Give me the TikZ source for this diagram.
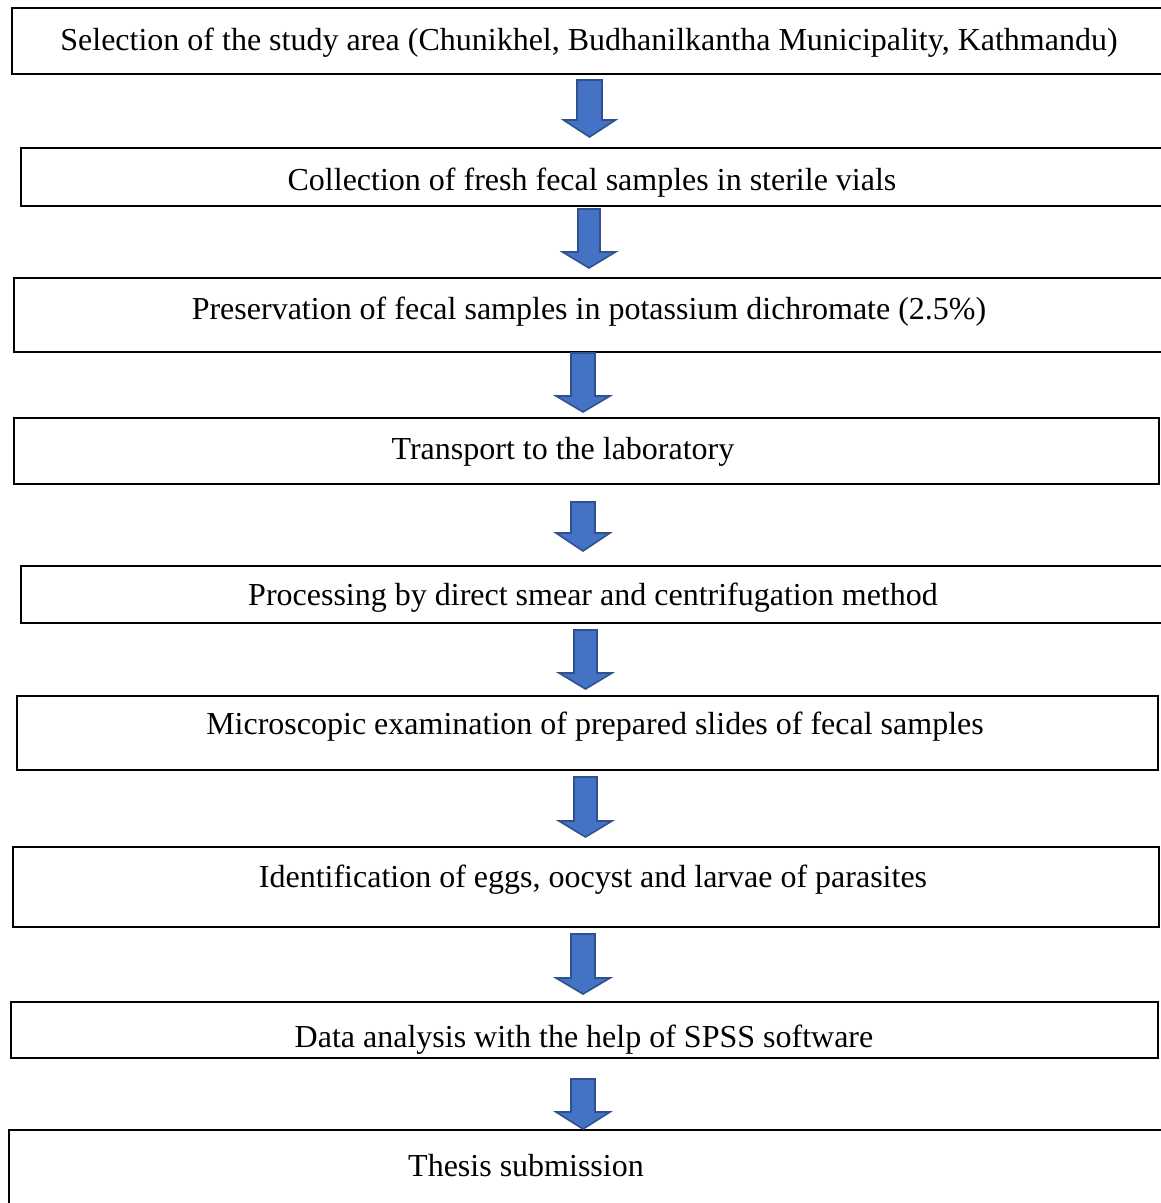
\documentclass[tikz,border=0pt]{standalone}
\usepackage{fontspec}
\setmainfont{Liberation Serif}
\usetikzlibrary{calc}

\definecolor{arrowblue}{HTML}{4472C4}
\definecolor{arrowline}{HTML}{2F528F}

\begin{document}
\begin{tikzpicture}[
        x=1pt, y=-1pt,
        box/.style={draw, inner sep=0pt, outer sep=0pt, anchor=north west},
        heavy/.style={line width=2pt},
        light/.style={line width=1.2pt},
        txt/.style={anchor=base, inner sep=0pt, font=\fontsize{32}{38}\selectfont},
        blockarr/.style={draw=arrowline, fill=arrowblue, line width=1.6pt, line join=miter}
      ]
      \useasboundingbox (0,0) rectangle (1161,1203);
      \fill[white] (0,0) rectangle (1161,1203);
      \clip (0,0) rectangle (1161,1203);

      % Boxes
      \node[box, heavy, minimum width=1158, minimum height=66] (b1) at (12,8) {};
      \node[box, heavy, minimum width=1149, minimum height=58] (b2) at (21,148) {};
      \node[box, heavy, minimum width=1156, minimum height=74] (b3) at (14,278) {};
      \node[box, heavy, minimum width=1145, minimum height=66] (b4) at (14,418) {};
      \node[box, light, minimum width=1149, minimum height=57] (b5) at (21,566) {};
      \node[box, light, minimum width=1141, minimum height=74] (b6) at (17,696) {};
      \node[box, light, minimum width=1146, minimum height=80] (b7) at (13,847) {};
      \node[box, light, minimum width=1147, minimum height=56] (b8) at (11,1002) {};
      \node[box, light, minimum width=1161, minimum height=90] (b9) at (9,1130) {};

      % Texts
      \node[txt] (t1) at (589,50)
      {Selection of the study area (Chunikhel, Budhanilkantha Municipality, Kathmandu)};
      \node[txt] (t2) at (592,190) {Collection of fresh fecal samples in sterile vials};
      \node[txt] (t3) at (589,319)
      {Preservation of fecal samples in potassium dichromate (2.5\%)};
      \node[txt] (t4) at (563,459) {Transport to the laboratory};
      \node[txt] (t5) at (593,605) {Processing by direct smear and centrifugation method};
      \node[txt] (t6) at (595,734)
      {Microscopic examination of prepared slides of fecal samples};
      \node[txt] (t7) at (593,887) {Identification of eggs, oocyst and larvae of parasites};
      \node[txt] (t8) at (584,1047) {Data analysis with the help of SPSS software};
      \node[txt] (t9) at (526,1176) {Thesis submission};

      % Block arrows (from/to, centre x, gaps, shaft and head half widths, head length)
      \foreach \a/\b/\cx/\ga/\gb/\sw/\hw/\hl in {
          b1/b2/589.5/6/11/12.5/26/17,
          b2/b3/589/3/10/11/26.5/16,
          b3/b4/583/1/6/12/27/16,
          b4/b5/583/18/15/12/27/18,
          b5/b6/585.5/7/7/11.5/26.5/16,
          b6/b7/585.5/7/10/11.5/26.5/16,
          b7/b8/583/7/8/12/27/16,
          b8/b9/583/21/1/12/27/17}
        \draw[blockarr] let \p1=(\a.south), \p2=(\b.north) in
          ({(\cx-\sw)*1pt},{\y1-\ga pt}) -- ({(\cx+\sw)*1pt},{\y1-\ga pt})
          -- ({(\cx+\sw)*1pt},{\y2+\gb pt+\hl pt}) -- ({(\cx+\hw)*1pt},{\y2+\gb pt+\hl pt})
          -- ({\cx*1pt},{\y2+\gb pt}) -- ({(\cx-\hw)*1pt},{\y2+\gb pt+\hl pt})
          -- ({(\cx-\sw)*1pt},{\y2+\gb pt+\hl pt}) -- cycle;
    \end{tikzpicture}
\end{document}
